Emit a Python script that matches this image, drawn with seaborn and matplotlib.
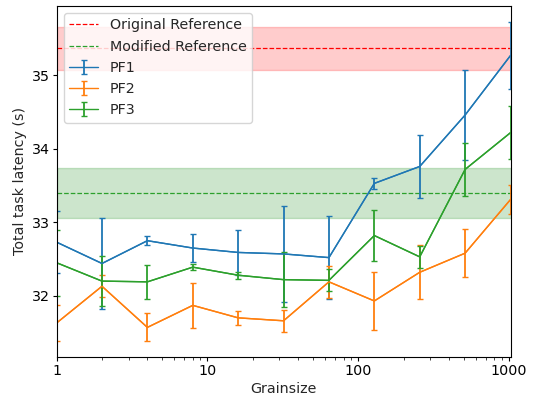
import numpy as np
import pandas as pd
import matplotlib
matplotlib.use("Agg")
import matplotlib.pyplot as plt
from matplotlib.ticker import ScalarFormatter, FixedLocator
import seaborn as sns

grainsize = [1, 2, 4, 8, 16, 32, 64, 128, 256, 512, 1024]
pf1_mean = [32.73, 32.44, 32.75, 32.65, 32.59, 32.57, 32.52, 33.53, 33.76, 34.46, 35.27]
pf1_err = [0.42, 0.62, 0.06, 0.19, 0.31, 0.65, 0.57, 0.07, 0.43, 0.61, 0.46]
pf2_mean = [31.63, 32.13, 31.57, 31.87, 31.70, 31.66, 32.19, 31.93, 32.32, 32.58, 33.31]
pf2_err = [0.25, 0.15, 0.19, 0.31, 0.10, 0.15, 0.22, 0.39, 0.37, 0.33, 0.20]
pf3_mean = [32.45, 32.20, 32.19, 32.39, 32.28, 32.22, 32.21, 32.82, 32.53, 33.72, 34.22]
pf3_err = [0.45, 0.34, 0.23, 0.04, 0.05, 0.37, 0.15, 0.35, 0.15, 0.36, 0.36]

orig_ref = 35.37
orig_band = (35.07, 35.66)
mod_ref = 33.40
mod_band = (33.06, 33.74)

series_names = ["PF1", "PF2", "PF3"]

sns.set_style("ticks")
plt.rcParams["font.family"] = ["DejaVu Sans"]
plt.rcParams["font.size"] = 10.3

fig = plt.figure(figsize=(5.34, 3.96), dpi=100)
ax = fig.add_axes([0.106, 0.099, 0.850, 0.887])

xs = np.array(grainsize, dtype=float)
ax.fill_between([xs.min(), xs.max()], orig_band[0], orig_band[1], color="red", alpha=0.2)
ax.axhline(orig_ref, color="red", linestyle="--", linewidth=0.9, label="Original Reference")
ax.fill_between([xs.min(), xs.max()], mod_band[0], mod_band[1], color="green", alpha=0.2)
ax.axhline(mod_ref, color="tab:green", linestyle="--", linewidth=0.9, label="Modified Reference")

palette = sns.color_palette("tab10")
means = [pf1_mean, pf2_mean, pf3_mean]
errs = [pf1_err, pf2_err, pf3_err]
for i, name in enumerate(series_names):
    df = pd.DataFrame({"Grainsize": grainsize, "lat": means[i]})
    sns.lineplot(data=df, x="Grainsize", y="lat", ax=ax, color=palette[i],
                 linewidth=1.0, legend=False)
    ax.errorbar(grainsize, means[i], yerr=errs[i], color=palette[i], linewidth=1.0,
                elinewidth=1.3, capsize=2, label=name)

ax.set_xscale("log")
ax.set_xlim(1, 1024)
ax.set_ylim(31.17, 35.95)
ax.xaxis.set_major_locator(FixedLocator([1, 10, 100, 1000]))
ax.xaxis.set_major_formatter(ScalarFormatter())
ax.set_yticks([32, 33, 34, 35])
ax.set_xlabel("Grainsize", labelpad=3)
ax.set_ylabel("Total task latency (s)", labelpad=3)
for s in ax.spines.values():
    s.set_color("black")
    s.set_linewidth(0.8)
ax.tick_params(colors="black", labelsize=10.3, pad=1.8)
ax.tick_params(which="major", length=3.2)
ax.tick_params(which="minor", length=2)

ax.legend(loc="upper left", fontsize=10.3)
fig.savefig("out.png", dpi=100)
